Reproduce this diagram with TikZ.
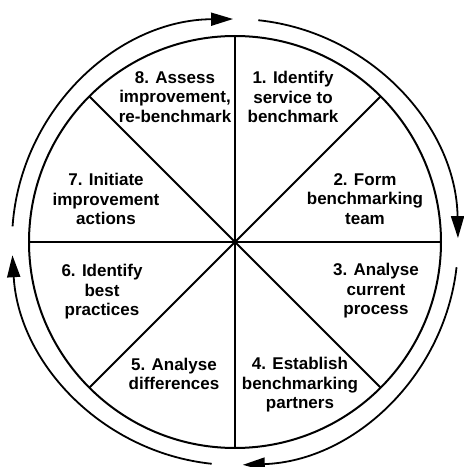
\documentclass[tikz,border=0pt]{standalone}
\usepackage{fontspec}
\setmainfont{Liberation Sans}
\usetikzlibrary{arrows.meta,calc}
\begin{document}
\begin{tikzpicture}[x=1pt,y=1pt,
  wheel/.style={line width=2pt},
  spoke/.style={line width=1.8pt},
  cycle/.style={line width=1.8pt,-{Triangle[length=22pt,width=13pt]}},
  stage/.style={align=center,font=\bfseries\fontsize{17}{19.5}\selectfont,inner sep=0pt}]
\useasboundingbox (0,0) rectangle (464,467);
\coordinate (c) at (235,225);
% spokes dividing the wheel into eight stages
\foreach \a in {0,45,...,315}
  \draw[spoke] (c) -- ($(c)+(\a:206)$) coordinate (s\a);
% the wheel
\draw[wheel] (c) circle[radius=206];
% clockwise cycle arrows around the wheel
\draw[cycle] ($(c)+(176:223)$) arc[start angle=176,end angle=90.5,radius=223];
\draw[cycle] ($(c)+(84:223)$) arc[start angle=84,end angle=1,radius=223];
\draw[cycle] ($(c)+(-6.5:223)$) arc[start angle=-6.5,end angle=-88,radius=223];
\draw[cycle] ($(c)+(-96:223)$) arc[start angle=-96,end angle=-176.6,radius=223];
% stage labels
\node[stage] (st1) at (293,370) {1. Identify\\service to\\benchmark};
\node[stage] (st2) at (365,268) {2. Form\\benchmarking\\team};
\node[stage] (st3) at (376,176) {3. Analyse\\current\\process};
\node[stage] (st4) at (300,82) {4. Establish\\benchmarking\\partners};
\node[stage] (st5) at (174,93) {5. Analyse\\differences};
\node[stage] (st6) at (102,175) {6. Identify\\best\\practices};
\node[stage] (st7) at (106,268) {7. Initiate\\improvement\\actions};
\node[stage] (st8) at (175,370) {8. Assess\\improvement,\\re-benchmark};
\end{tikzpicture}
\end{document}
